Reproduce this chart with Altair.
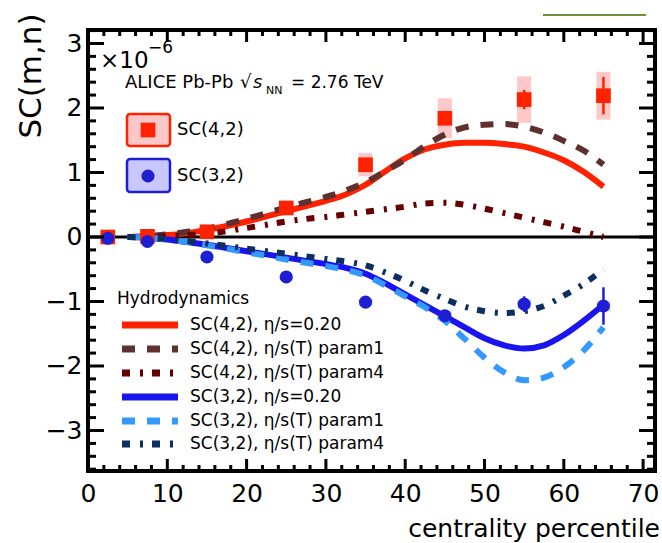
import altair as alt
import pandas as pd

# ---------------- data (in units of 1e-6) ----------------
centrality = [2.5, 7.5, 15, 25, 35, 45, 55, 65]
sc42 = [0.0, 0.01, 0.08, 0.45, 1.12, 1.84, 2.13, 2.19]
sc42_stat = [0.01, 0.01, 0.02, 0.03, 0.06, 0.10, 0.15, 0.29]
sc42_sys = [0.02, 0.02, 0.05, 0.08, 0.18, 0.31, 0.36, 0.37]
sc32 = [-0.02, -0.07, -0.31, -0.62, -1.01, -1.22, -1.04, -1.07]
sc32_stat = [0.01, 0.01, 0.02, 0.03, 0.05, 0.07, 0.12, 0.29]
sc32_sys = [0.01, 0.02, 0.03, 0.04, 0.05, 0.07, 0.07, 0.08]

hydro_x = [5, 7.5, 10, 12.5, 15, 17.5, 20, 22.5, 25, 27.5, 30, 32.5, 35,
           37.5, 40, 42.5, 45, 47.5, 50, 52.5, 55, 57.5, 60, 62.5, 65]
sc42_eta020 = [0.0, 0.01, 0.03, 0.06, 0.11, 0.17, 0.24, 0.32, 0.40, 0.48, 0.56, 0.66, 0.81,
               1.02, 1.22, 1.36, 1.43, 1.46, 1.46, 1.44, 1.40, 1.31, 1.19, 1.01, 0.78]
sc42_param1 = [0.0, 0.01, 0.04, 0.08, 0.13, 0.20, 0.28, 0.37, 0.46, 0.54, 0.62, 0.72, 0.85,
               1.02, 1.20, 1.41, 1.59, 1.70, 1.74, 1.75, 1.71, 1.62, 1.49, 1.34, 1.12]
sc42_param4 = [0.0, 0.0, 0.01, 0.03, 0.05, 0.09, 0.14, 0.19, 0.24, 0.28, 0.31, 0.35, 0.39,
               0.43, 0.47, 0.52, 0.53, 0.50, 0.44, 0.37, 0.30, 0.23, 0.16, 0.08, 0.0]
sc32_eta020 = [0.0, -0.01, -0.04, -0.08, -0.12, -0.17, -0.22, -0.27, -0.32, -0.37, -0.42, -0.48, -0.57,
               -0.72, -0.89, -1.06, -1.23, -1.40, -1.57, -1.68, -1.73, -1.68, -1.52, -1.30, -1.05]
sc32_param1 = [0.0, -0.01, -0.04, -0.08, -0.13, -0.18, -0.24, -0.29, -0.35, -0.40, -0.45, -0.51, -0.60,
               -0.75, -0.92, -1.09, -1.30, -1.58, -1.87, -2.10, -2.22, -2.18, -2.02, -1.76, -1.40]
sc32_param4 = [0.0, -0.01, -0.03, -0.06, -0.10, -0.14, -0.18, -0.22, -0.26, -0.30, -0.34, -0.38, -0.44,
               -0.55, -0.68, -0.83, -0.96, -1.08, -1.15, -1.18, -1.15, -1.07, -0.91, -0.73, -0.50]

hydro_labels = ["SC(4,2), η/s=0.20", "SC(4,2), η/s(T) param1", "SC(4,2), η/s(T) param4",
                "SC(3,2), η/s=0.20", "SC(3,2), η/s(T) param1", "SC(3,2), η/s(T) param4"]

x_major = [0, 10, 20, 30, 40, 50, 60, 70]
x_minor = [v for v in range(2, 70, 2) if v % 10 != 0]
y_major = [-3, -2, -1, 0, 1, 2, 3]
y_minor = [round(-3.6 + 0.2 * i, 1) for i in range(35) if abs(round(-3.6 + 0.2 * i, 1)) % 1 != 0]

# ---------------- styling ----------------
W, H = 567, 441
FONT = "DejaVu Sans"
RED, RED_BOX = "#ff2200", "#ffc8c8"
BLUE, BLUE_BOX = "#1e1ed2", "#d8d8ff"
styles = [
    (sc42_eta020, "#ff2200", None),
    (sc42_param1, "#5e3030", [13, 12]),
    (sc42_param4, "#650000", [8, 10, 3, 9]),
    (sc32_eta020, "#1a14f0", None),
    (sc32_param1, "#3399ff", [13, 12]),
    (sc32_param4, "#0c2f60", [8, 10, 3, 9]),
]

xs = alt.Scale(domain=[0, 71.5], nice=False, zero=False)
ys = alt.Scale(domain=[-3.628, 3.209], nice=False, zero=False)

xax = alt.Axis(values=x_major, ticks=False, domain=False, grid=False, labelFont=FONT,
               labelFontSize=25, labelPadding=10, labelColor="black", title=None,
               labelFlush=False, labelOverlap=False)
yax = alt.Axis(values=y_major, ticks=False, domain=False, grid=False, labelFont=FONT,
               labelFontSize=25, labelPadding=6, labelColor="black", title=None, format="d",
               labelOverlap=False)


def X(f):
    return alt.X(f, type="quantitative", scale=xs, axis=xax, title=None)


def Y(f):
    return alt.Y(f, type="quantitative", scale=ys, axis=yax, title=None)


one = pd.DataFrame({"k": [0]})

pts42 = pd.DataFrame({"cent": centrality, "v": sc42, "stat": sc42_stat, "sys": sc42_sys})
pts32 = pd.DataFrame({"cent": centrality, "v": sc32, "stat": sc32_stat, "sys": sc32_sys})
for d in (pts42, pts32):
    d["slo"] = d["v"] - d["sys"]
    d["shi"] = d["v"] + d["sys"]
    d["elo"] = d["v"] - d["stat"]
    d["ehi"] = d["v"] + d["stat"]

layers = []

# systematic boxes
layers.append(alt.Chart(pts42).mark_rule(strokeWidth=14, color=RED_BOX).encode(
    x=X("cent"), y=Y("slo"), y2="shi"))
layers.append(alt.Chart(pts32).mark_rule(strokeWidth=14, color=BLUE_BOX).encode(
    x=X("cent"), y=Y("slo"), y2="shi"))

# zero line
layers.append(alt.Chart(pd.DataFrame({"v": [0]})).mark_rule(color="black", strokeWidth=3).encode(
    y=Y("v"), x=alt.value(0), x2=alt.value(W)))

# hydro curves
for vals, col, dash in styles:
    df = pd.DataFrame({"cent": hydro_x, "v": vals})
    kw = dict(color=col, strokeWidth=6, interpolate="monotone", strokeCap="butt")
    if dash:
        kw["strokeDash"] = dash
    layers.append(alt.Chart(df).mark_line(**kw).encode(x=X("cent"), y=Y("v")))

# stat error bars and markers
layers.append(alt.Chart(pts42).mark_rule(strokeWidth=2.5, color=RED).encode(
    x=X("cent"), y=Y("elo"), y2="ehi"))
layers.append(alt.Chart(pts32).mark_rule(strokeWidth=2.5, color=BLUE).encode(
    x=X("cent"), y=Y("elo"), y2="ehi"))
layers.append(alt.Chart(pts42).mark_point(shape="square", filled=True, size=215, color=RED,
                                          opacity=1).encode(x=X("cent"), y=Y("v")))
layers.append(alt.Chart(pts32).mark_point(shape="circle", filled=True, size=170, color=BLUE,
                                          opacity=1).encode(x=X("cent"), y=Y("v")))

# inward ticks on all four sides
for vals, ln in ((x_major, 12), (x_minor, 6)):
    d = pd.DataFrame({"cent": vals})
    layers.append(alt.Chart(d).mark_rule(color="black", strokeWidth=3).encode(
        x=X("cent"), y=alt.value(H), y2=alt.value(H - ln)))
    layers.append(alt.Chart(d).mark_rule(color="black", strokeWidth=3).encode(
        x=X("cent"), y=alt.value(0), y2=alt.value(ln)))
for vals, ln in ((y_major, 16), (y_minor, 8)):
    d = pd.DataFrame({"v": vals})
    layers.append(alt.Chart(d).mark_rule(color="black", strokeWidth=3).encode(
        y=Y("v"), x=alt.value(0), x2=alt.value(ln)))
    layers.append(alt.Chart(d).mark_rule(color="black", strokeWidth=3).encode(
        y=Y("v"), x=alt.value(W), x2=alt.value(W - ln)))


def text(s, x, y, size, align="left", baseline="alphabetic", angle=0, style="normal"):
    kw = dict(font=FONT, fontSize=size, align=align, baseline=baseline, color="black",
              fontStyle=style)
    if angle:
        kw["angle"] = angle
    return alt.Chart(one).mark_text(**kw).encode(x=alt.value(x), y=alt.value(y), text=alt.value(s))


# titles
layers.append(text("SC(m,n)", -56, 46, 31, align="center", baseline="middle", angle=270))
layers.append(text("centrality percentile", 572, 507, 25, align="right"))

# exponent label
layers.append(text("×10", 12, 38, 23))
layers.append(text("−6", 60, 23, 17))

# ALICE label
layers.append(text("ALICE Pb-Pb", 37, 58, 18))
layers.append(text("√", 152, 58, 18))
layers.append(text("s", 165, 58, 18, style="italic"))
layers.append(text("NN", 178, 64, 11))
layers.append(text("= 2.76 TeV", 203, 58, 17))

# data legend boxes
layers.append(alt.Chart(one).mark_rect(fill=RED_BOX, stroke=RED, strokeWidth=2.5, cornerRadius=3).encode(
    x=alt.value(39), x2=alt.value(82), y=alt.value(84), y2=alt.value(116)))
layers.append(alt.Chart(one).mark_point(shape="square", filled=True, size=215, color=RED, opacity=1).encode(
    x=alt.value(60), y=alt.value(100)))
layers.append(text("SC(4,2)", 89, 100, 18, baseline="middle"))
layers.append(alt.Chart(one).mark_rect(fill="#c8c8ff", stroke=BLUE, strokeWidth=2.5, cornerRadius=3).encode(
    x=alt.value(39), x2=alt.value(82), y=alt.value(129), y2=alt.value(162)))
layers.append(alt.Chart(one).mark_point(shape="circle", filled=True, size=170, color=BLUE, opacity=1).encode(
    x=alt.value(60), y=alt.value(146)))
layers.append(text("SC(3,2)", 89, 146, 18, baseline="middle"))

# hydro legend
layers.append(text("Hydrodynamics", 29, 269, 17, baseline="middle"))
leg_y = [295, 319, 343, 367, 391, 414]
for (vals, col, dash), lab, yy in zip(styles, hydro_labels, leg_y):
    kw = dict(color=col, strokeWidth=7, strokeCap="butt")
    if dash:
        kw["strokeDash"] = dash
    layers.append(alt.Chart(one).mark_rule(**kw).encode(
        x=alt.value(34), x2=alt.value(90), y=alt.value(yy)))
    layers.append(text(lab, 102, yy, 17, baseline="middle"))

# green line at top right
layers.append(alt.Chart(one).mark_rule(color="#6f8f3a", strokeWidth=2).encode(
    x=alt.value(455), x2=alt.value(558), y=alt.value(-15)))

chart = alt.layer(*layers).properties(
    width=W, height=H,
    padding={"left": 88, "top": 30, "right": 7, "bottom": 72},
    autosize="none",
    background="white",
).configure_view(stroke="black", strokeWidth=4)

chart.save("out.html", embed_options={"renderer": "svg", "actions": False})
